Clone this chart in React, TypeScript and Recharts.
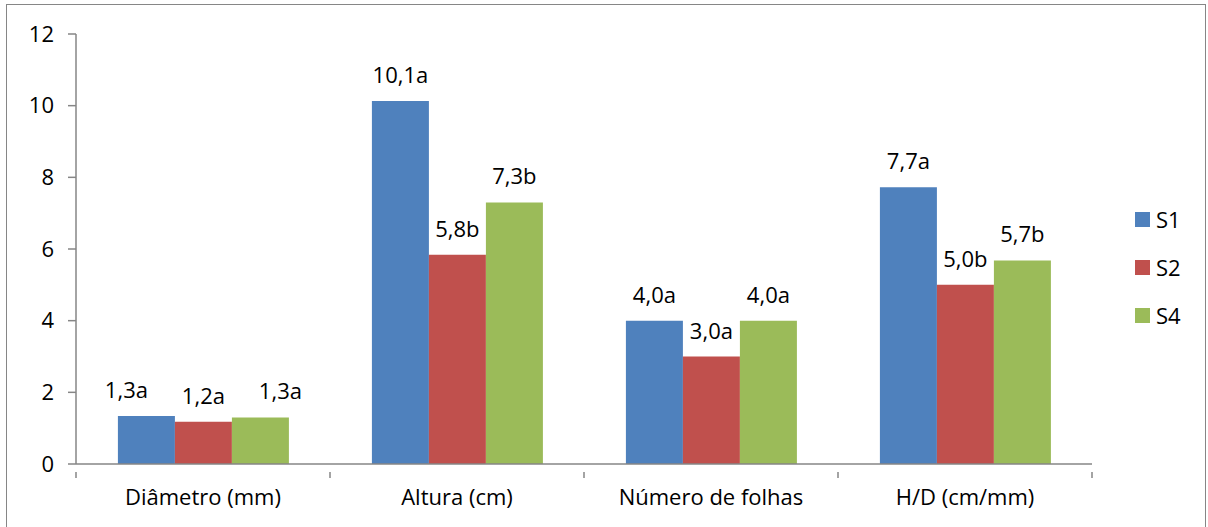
import { BarChart, Bar, XAxis, YAxis, Legend, LabelList } from "recharts";

const categories = ["Diâmetro (mm)", "Altura (cm)", "Número de folhas", "H/D (cm/mm)"];
const s1 = [1.34, 10.13, 4.0, 7.72];
const s2 = [1.18, 5.84, 3.0, 5.0];
const s4 = [1.3, 7.3, 4.0, 5.68];
const s1Letters = ["a", "a", "a", "a"];
const s2Letters = ["a", "b", "a", "b"];
const s4Letters = ["a", "b", "a", "b"];
const yTicks = [0, 2, 4, 6, 8, 10, 12];

const data = categories.map((name, i) => ({ name, S1: s1[i], S2: s2[i], S4: s4[i] }));

const series = [
  { key: "S1", color: "#4F81BD", letters: s1Letters, nudge: [-20, 0, 0, 0] },
  { key: "S2", color: "#C0504D", letters: s2Letters, nudge: [0, 0, 0, 0] },
  { key: "S4", color: "#9BBB59", letters: s4Letters, nudge: [20, 0, 0, 0] },
];

const FONT = "'Open Sans', 'Noto Sans', sans-serif";
const FS = 22;
const AXIS = "#868686";

// label in the middle of the band, short tick marks on the band edges
function CategoryTick(props: any) {
  const { x, y, payload, index } = props;
  const half = payload.offset || 127;
  return (
    <g>
      <line x1={x - half} x2={x - half} y1={y} y2={y + 6} stroke={AXIS} strokeWidth={1.5} />
      {index === categories.length - 1 && (
        <line x1={x + half} x2={x + half} y1={y} y2={y + 6} stroke={AXIS} strokeWidth={1.5} />
      )}
      <text x={x} y={y + 33} textAnchor="middle" fill="#000" fontSize={FS} fontFamily={FONT}>
        {payload.value}
      </text>
    </g>
  );
}

function valueLabel(letters: string[], nudge: number[]) {
  return (props: any) => {
    const { x, y, width, value, index } = props;
    const txt = Number(value).toFixed(1).replace(".", ",") + letters[index];
    return (
      <text
        x={x + width / 2 + nudge[index]}
        y={y - 18}
        textAnchor="middle"
        fill="#000"
        fontSize={FS}
        fontFamily={FONT}
      >
        {txt}
      </text>
    );
  };
}

function LegendBox() {
  return (
    <div style={{ fontFamily: FONT, fontSize: FS, color: "#000" }}>
      {series.map((s) => (
        <div key={s.key} style={{ display: "flex", alignItems: "center", height: 48 }}>
          <span style={{ width: 15, height: 15, background: s.color, marginRight: 6 }} />
          <span>{s.key}</span>
        </div>
      ))}
    </div>
  );
}

export default function App() {
  return (
    <div style={{ position: "absolute", left: 0, top: 0, width: 1208, height: 527, background: "#fff" }}>
      <div
        style={{
          position: "absolute",
          left: 6,
          top: 4,
          width: 1200,
          height: 540,
          border: `1px solid ${AXIS}`,
          boxSizing: "border-box",
        }}
      />
      <BarChart
        width={1208}
        height={527}
        data={data}
        margin={{ top: 34, right: 46, bottom: 13, left: 8 }}
        barCategoryGap="16.5%"
        barGap={0}
        style={{ position: "absolute", left: 0, top: 0 }}
      >
        <XAxis
          dataKey="name"
          height={50}
          axisLine={{ stroke: AXIS, strokeWidth: 1.5 }}
          tickLine={false}
          tick={<CategoryTick />}
          interval={0}
        />
        <YAxis
          domain={[0, 12]}
          ticks={yTicks}
          width={68}
          axisLine={{ stroke: AXIS, strokeWidth: 1.5 }}
          tickLine={{ stroke: AXIS, strokeWidth: 1.5 }}
          tickSize={8}
          tickMargin={14}
          tick={{ fill: "#000", fontSize: FS, fontFamily: FONT }}
        />
        <Legend
          layout="vertical"
          align="right"
          verticalAlign="top"
          content={<LegendBox />}
          wrapperStyle={{ left: 1135, top: 195, width: 70 }}
        />
        {series.map((s) => (
          <Bar key={s.key} dataKey={s.key} fill={s.color} isAnimationActive={false}>
            <LabelList dataKey={s.key} content={valueLabel(s.letters, s.nudge)} />
          </Bar>
        ))}
      </BarChart>
    </div>
  );
}
